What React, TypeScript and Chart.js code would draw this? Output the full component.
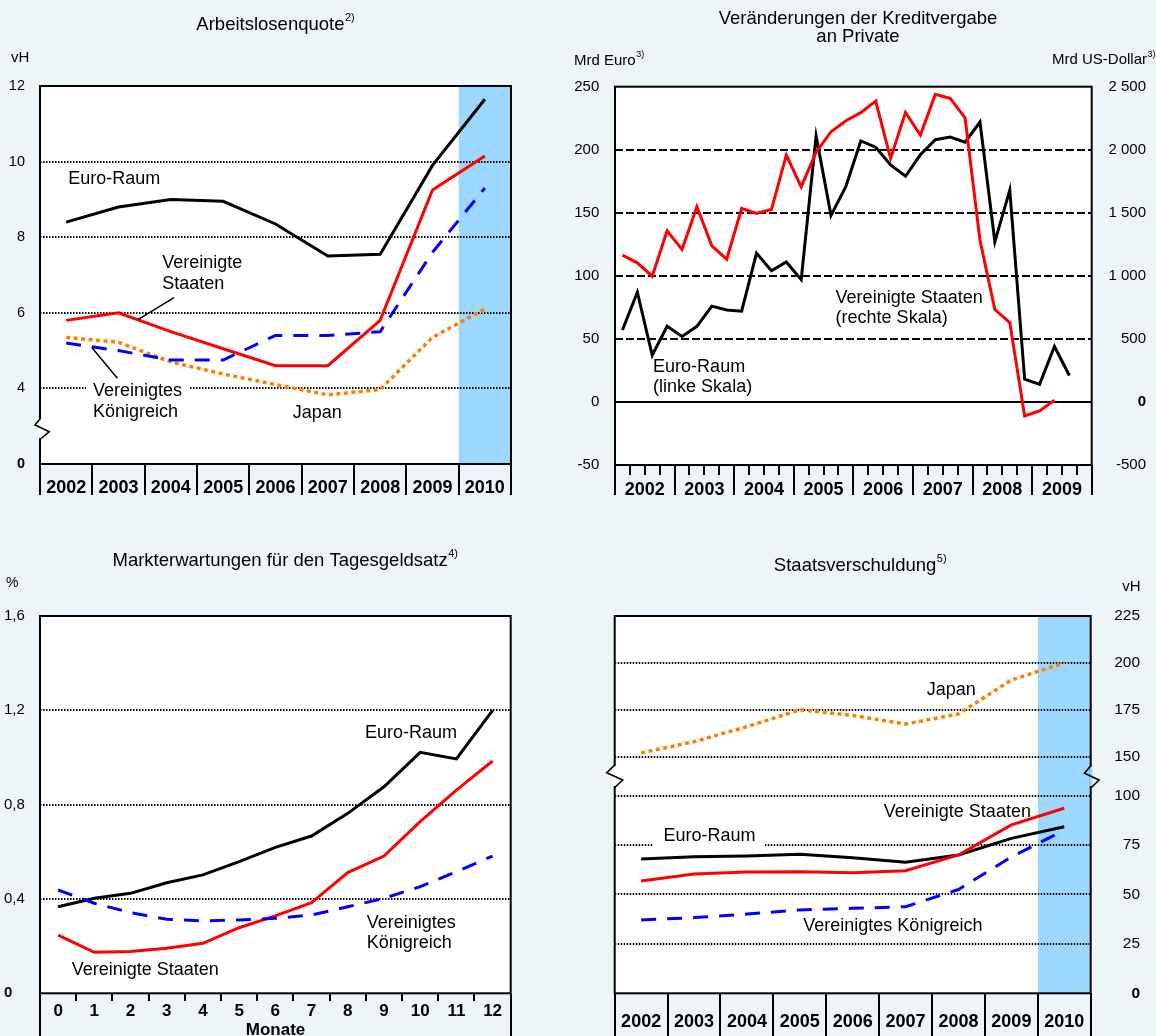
import React, { useEffect, useRef } from 'react';
import { Chart, registerables } from 'chart.js';

Chart.register(...registerables);

const FONT = '"Liberation Sans", Arial, Helvetica, sans-serif';
Chart.defaults.font.family = FONT;
Chart.defaults.color = '#000';

const PAGE_BG = '#EDF5F9';
const SHADE = '#9BD7FE';
const RED = '#FF0000';
const BLUE = '#0000FF';
const ORANGE = '#FF8000';
const BLACK = '#000000';
const NONE = 'rgba(0,0,0,0)';

// ---------- Panel 1: Arbeitslosenquote (vH) ----------
const unempYears = ['2002', '2003', '2004', '2005', '2006', '2007', '2008', '2009', '2010'];
const unempEuro = [8.4, 8.8, 9.0, 8.95, 8.35, 7.5, 7.55, 9.9, 11.65];
const unempUS = [5.8, 6.0, 5.5, 5.05, 4.6, 4.6, 5.8, 9.25, 10.15];
const unempUK = [5.2, 5.0, 4.75, 4.75, 5.4, 5.4, 5.5, 7.6, 9.3];
const unempJapan = [5.35, 5.22, 4.7, 4.38, 4.1, 3.83, 3.97, 5.35, 6.1];
const unempTickValues = [2, 4, 6, 8, 10, 12]; // 2 = Achsenbruch, beschriftet mit 0
const unempTickLabels = ['0', '4', '6', '8', '10', '12'];

// ---------- Panel 2: Veränderungen der Kreditvergabe an Private (Quartale) ----------
const creditYears = ['2002', '2003', '2004', '2005', '2006', '2007', '2008', '2009'];
const creditEuro = [57, 87, 37, 60, 52, 60, 76, 73, 72, 118, 104, 111, 97, 211, 148, 171, 207, 202, 188, 179, 196, 208, 210, 206, 222, 127, 168, 18, 14, 44, 21];
const creditUS = [1164, 1103, 997, 1357, 1209, 1548, 1238, 1132, 1534, 1495, 1526, 1958, 1706, 1980, 2143, 2230, 2294, 2386, 1931, 2296, 2116, 2439, 2407, 2254, 1283, 733, 630, -111, -71, 13];
const creditLeftTicks = [-50, 0, 50, 100, 150, 200, 250];
const creditRightTicks = [-500, 0, 500, 1000, 1500, 2000, 2500];
const creditRightLabels = ['-500', '0', '500', '1 000', '1 500', '2 000', '2 500'];

// ---------- Panel 3: Markterwartungen für den Tagesgeldsatz (%) ----------
const rateMonths = ['0', '1', '2', '3', '4', '5', '6', '7', '8', '9', '10', '11', '12'];
const rateEuro = [0.367, 0.403, 0.424, 0.469, 0.502, 0.558, 0.619, 0.667, 0.763, 0.876, 1.022, 0.994, 1.2];
const rateUS = [0.247, 0.174, 0.177, 0.191, 0.212, 0.278, 0.328, 0.384, 0.512, 0.582, 0.728, 0.862, 0.985];
const rateUK = [0.438, 0.382, 0.342, 0.314, 0.307, 0.311, 0.318, 0.332, 0.367, 0.403, 0.452, 0.516, 0.582];
const rateTickValues = [0, 0.4, 0.8, 1.2, 1.6];
const rateTickLabels = ['0', '0,4', '0,8', '1,2', '1,6'];

// ---------- Panel 4: Staatsverschuldung (vH) ----------
const debtYears = ['2002', '2003', '2004', '2005', '2006', '2007', '2008', '2009', '2010'];
const debtEuro = [68, 69.1, 69.5, 70.3, 68.6, 66.3, 70, 78.4, 84.3];
const debtUS = [56.8, 60.4, 61.4, 61.5, 61, 62, 70, 85.2, 93.6];
const debtUK = [37.1, 38.3, 40.1, 42.2, 43, 43.8, 52.5, 69, 82.5];
const debtJapan = [152, 158, 166, 175, 172, 167.4, 172.8, 190.9, 200];
const debtTickValues = [0, 25, 50, 75, 100, 150, 175, 200, 225];
const DEBT_GAP_LOW = 100;
const DEBT_GAP_HIGH = 150;
// broken axis: 100..150 is compressed
function debtAxis(v: number) {
  return v <= DEBT_GAP_LOW ? v : 119.7 + (v - DEBT_GAP_HIGH) * 0.949;
}

// ---------- helpers ----------
type Txt = {
  t: string; x: number; y: number; size: number;
  bold?: boolean; align?: 'left' | 'center' | 'right'; sup?: string;
};
type Brk = { pts: number[][]; gap: number[]; fill: string };
type Deco = {
  origin: [number, number];
  shadeFrom?: number;
  texts: Txt[];
  boxes?: number[][];
  leaders?: number[][];
  breaks?: Brk[];
  zeroLine?: boolean;
};

function drawTxt(ctx: CanvasRenderingContext2D, o: Txt, ox: number, oy: number) {
  ctx.save();
  const main = `${o.bold ? 'bold ' : ''}${o.size}px ${FONT}`;
  const supSize = Math.round(o.size * 0.62);
  const supFont = `${supSize}px ${FONT}`;
  ctx.font = main;
  const w = ctx.measureText(o.t).width;
  let sw = 0;
  if (o.sup) {
    ctx.font = supFont;
    sw = ctx.measureText(o.sup).width;
  }
  const total = w + sw;
  let left = o.x - ox;
  if (o.align === 'center') left -= total / 2;
  else if (o.align === 'right') left -= total;
  ctx.fillStyle = '#000';
  ctx.textBaseline = 'middle';
  ctx.textAlign = 'left';
  ctx.font = main;
  ctx.fillText(o.t, left, o.y - oy);
  if (o.sup) {
    ctx.font = supFont;
    ctx.fillText(o.sup, left + w + 0.5, o.y - oy - o.size * 0.38);
  }
  ctx.restore();
}

function decoPlugin(d: Deco) {
  const [ox, oy] = d.origin;
  return {
    id: 'deco',
    beforeDraw(chart: any) {
      const { ctx, chartArea: a } = chart;
      ctx.save();
      ctx.fillStyle = '#ffffff';
      ctx.fillRect(a.left, a.top, a.right - a.left, a.bottom - a.top);
      if (d.shadeFrom !== undefined) {
        const x = chart.scales.x;
        const p = (x.getPixelForValue(d.shadeFrom - 1) + x.getPixelForValue(d.shadeFrom)) / 2;
        ctx.fillStyle = SHADE;
        ctx.fillRect(p, a.top, a.right - p, a.bottom - a.top);
      }
      ctx.restore();
    },
    beforeDatasetsDraw(chart: any) {
      const { ctx, chartArea: a } = chart;
      ctx.save();
      (d.boxes || []).forEach((b) => {
        ctx.fillStyle = '#ffffff';
        ctx.fillRect(b[0] - ox, b[1] - oy, b[2], b[3]);
      });
      if (d.zeroLine) {
        const y = chart.scales.y.getPixelForValue(0);
        ctx.strokeStyle = BLACK;
        ctx.lineWidth = 2;
        ctx.beginPath();
        ctx.moveTo(a.left, y);
        ctx.lineTo(a.right, y);
        ctx.stroke();
      }
      ctx.restore();
    },
    afterDatasetsDraw(chart: any) {
      const { ctx, chartArea: a } = chart;
      ctx.save();
      ctx.strokeStyle = BLACK;
      ctx.lineWidth = 2;
      ctx.strokeRect(a.left, a.top, a.right - a.left, a.bottom - a.top);
      (d.breaks || []).forEach((b) => {
        ctx.fillStyle = b.fill;
        ctx.fillRect(b.gap[0] - ox, b.gap[1] - oy, b.gap[2], b.gap[3]);
        ctx.strokeStyle = BLACK;
        ctx.lineWidth = 1.6;
        ctx.beginPath();
        b.pts.forEach((p, i) => (i === 0 ? ctx.moveTo(p[0] - ox, p[1] - oy) : ctx.lineTo(p[0] - ox, p[1] - oy)));
        ctx.stroke();
      });
      (d.leaders || []).forEach((l) => {
        ctx.strokeStyle = BLACK;
        ctx.lineWidth = 1.5;
        ctx.beginPath();
        ctx.moveTo(l[0] - ox, l[1] - oy);
        ctx.lineTo(l[2] - ox, l[3] - oy);
        ctx.stroke();
      });
      ctx.restore();
      d.texts.forEach((t) => drawTxt(ctx, t, ox, oy));
    },
  };
}

function line(data: any[], color: string, dash: number[] = [], yAxisID = 'y', width = 3) {
  return {
    data,
    borderColor: color,
    backgroundColor: color,
    borderWidth: width,
    borderDash: dash,
    borderCapStyle: 'butt',
    borderJoinStyle: 'miter',
    pointRadius: 0,
    pointHoverRadius: 0,
    tension: 0,
    fill: false,
    yAxisID,
  };
}

const commonPlugins = { legend: { display: false }, tooltip: { enabled: false }, title: { display: false } };
const DOT = [1.5, 1.5];

function bandXAxis(tickLength: number, height: number, fontSize: number, pad: number, shortTicks = false) {
  return {
    type: 'category',
    offset: true,
    grid: {
      offset: true,
      drawOnChartArea: false,
      drawTicks: true,
      tickLength,
      lineWidth: 2,
      color: BLACK,
      tickColor: BLACK,
      tickBorderDash: (ctx: any) => (shortTicks && ctx.type === 'tick' && ctx.index > 0 ? [8, 1000] : []),
    },
    border: { display: false },
    ticks: { autoSkip: false, maxRotation: 0, minRotation: 0, padding: pad, color: BLACK, font: { size: fontSize, weight: 'bold' } },
    afterFit: (s: any) => { s.height = height; },
  };
}

// ---------- chart configs ----------
function makeUnemp() {
  return {
    type: 'line',
    data: {
      labels: unempYears,
      datasets: [
        line(unempUS, RED),
        line(unempUK, BLUE, [15, 11]),
        line(unempJapan, ORANGE, [4, 3.5], 'y', 3.5),
        line(unempEuro, BLACK),
      ],
    },
    options: {
      responsive: false, animation: false, devicePixelRatio: 1,
      layout: { padding: { top: 86, right: 49, bottom: 6, left: 0 } },
      plugins: commonPlugins,
      scales: {
        x: bandXAxis(31, 40, 18, -17.5),
        y: {
          min: 2, max: 12,
          afterBuildTicks: (s: any) => { s.ticks = unempTickValues.map((v) => ({ value: v })); },
          ticks: {
            padding: 15, color: BLACK,
            callback: (_v: any, i: number) => unempTickLabels[i],
            font: (ctx: any) => ({ size: 14.5, weight: ctx.index === 0 ? 'bold' : 'normal' }),
          },
          grid: { drawTicks: false, lineWidth: 2, color: (ctx: any) => (ctx.type === 'tick' && ctx.index > 0 && ctx.index < unempTickValues.length - 1 ? BLACK : NONE) },
          border: { display: false, dash: DOT },
          afterFit: (s: any) => { s.width = 40; },
        },
      },
    },
    plugins: [decoPlugin({
      origin: [0, 0],
      shadeFrom: 8,
      boxes: [[86, 380, 104, 20]],
      leaders: [[138.3, 319.3, 174, 297.7], [91.7, 347.3, 117.3, 378.3]],
      breaks: [{ gap: [38.5, 419, 4, 19], fill: '#ffffff', pts: [[40.7, 418], [35, 425], [49.3, 431.7], [41.2, 438.5]] }],
      texts: [
        { t: 'Arbeitslosenquote', sup: '2)', x: 275.3, y: 25, size: 18.5, align: 'center' },
        { t: 'vH', x: 11, y: 58.3, size: 15 },
        { t: 'Euro-Raum', x: 68.3, y: 179.5, size: 18 },
        { t: 'Vereinigte', x: 162.3, y: 263.5, size: 18 },
        { t: 'Staaten', x: 162.3, y: 284.5, size: 18 },
        { t: 'Vereinigtes', x: 93, y: 391.5, size: 18 },
        { t: 'Königreich', x: 93, y: 412.5, size: 18 },
        { t: 'Japan', x: 292.7, y: 412.7, size: 18 },
      ],
    })],
  };
}

function makeCredit() {
  return {
    type: 'line',
    data: {
      datasets: [
        line(creditUS.map((v, i) => ({ x: i + 0.5, y: v })), RED, [], 'y1'),
        line(creditEuro.map((v, i) => ({ x: i + 0.5, y: v })), BLACK, [], 'y'),
      ],
    },
    options: {
      responsive: false, animation: false, devicePixelRatio: 1,
      parsing: false,
      layout: { padding: { top: 86.7, right: 10, bottom: 0, left: 0 } },
      plugins: commonPlugins,
      scales: {
        x: {
          type: 'linear', min: 0, max: creditYears.length * 4,
          afterBuildTicks: (s: any) => { s.ticks = Array.from({ length: creditYears.length * 4 + 1 }, (_, i) => ({ value: i })); },
          grid: {
            drawOnChartArea: false, drawTicks: true, tickLength: 30, lineWidth: 2, color: BLACK, tickColor: BLACK,
            tickBorderDash: (ctx: any) => (ctx.tick && ctx.tick.value % 4 === 0 ? [] : [10, 1000]),
          },
          border: { display: false },
          ticks: {
            autoSkip: false, maxRotation: 0, minRotation: 0, padding: -15.8, color: BLACK,
            font: { size: 18, weight: 'bold' },
            callback: (v: number) => (v % 4 === 2 ? creditYears[(v - 2) / 4] : ''),
          },
          afterFit: (s: any) => { s.height = 45; },
        },
        y: {
          position: 'left', min: -50, max: 250,
          afterBuildTicks: (s: any) => { s.ticks = creditLeftTicks.map((v) => ({ value: v })); },
          ticks: { padding: 15.7, color: BLACK, font: { size: 15 } },
          grid: { drawTicks: false, lineWidth: 2, color: (ctx: any) => (ctx.tick && ctx.tick.value > 0 && ctx.tick.value < 250 ? BLACK : NONE) },
          border: { display: false, dash: [8, 3] },
          afterFit: (s: any) => { s.width = 55; },
        },
        y1: {
          position: 'right', min: -500, max: 2500,
          afterBuildTicks: (s: any) => { s.ticks = creditRightTicks.map((v) => ({ value: v })); },
          ticks: {
            padding: 10, crossAlign: 'far', color: BLACK,
            callback: (_v: any, i: number) => creditRightLabels[i],
            font: (ctx: any) => ({ size: 15, weight: ctx.tick && ctx.tick.value === 0 ? 'bold' : 'normal' }),
          },
          grid: { display: false, drawTicks: false },
          border: { display: false },
          afterFit: (s: any) => { s.width = 54.3; },
        },
      },
    },
    plugins: [decoPlugin({
      origin: [560, 0],
      zeroLine: true,
      texts: [
        { t: 'Veränderungen der Kreditvergabe', x: 858, y: 18.5, size: 18.5, align: 'center' },
        { t: 'an Private', x: 858, y: 37, size: 18.5, align: 'center' },
        { t: 'Mrd Euro', sup: '3)', x: 574, y: 60.7, size: 15 },
        { t: 'Mrd US-Dollar', sup: '3)', x: 1155, y: 60, size: 15, align: 'right' },
        { t: 'Vereinigte Staaten', x: 835.6, y: 298.3, size: 18 },
        { t: '(rechte Skala)', x: 835.6, y: 318.3, size: 18 },
        { t: 'Euro-Raum', x: 653.1, y: 366.7, size: 18 },
        { t: '(linke Skala)', x: 653.1, y: 387.3, size: 18 },
      ],
    })],
  };
}

function makeRate() {
  return {
    type: 'line',
    data: {
      labels: rateMonths,
      datasets: [
        line(rateUK, BLUE, [15, 11]),
        line(rateUS, RED),
        line(rateEuro, BLACK),
      ],
    },
    options: {
      responsive: false, animation: false, devicePixelRatio: 1,
      layout: { padding: { top: 96, right: 49.3, bottom: 0, left: 4 } },
      plugins: commonPlugins,
      scales: {
        x: bandXAxis(43, 42.7, 17, -35.5, true),
        y: {
          min: 0, max: 1.6,
          afterBuildTicks: (s: any) => { s.ticks = rateTickValues.map((v) => ({ value: v })); },
          ticks: {
            padding: 0, crossAlign: 'far', color: BLACK,
            callback: (_v: any, i: number) => rateTickLabels[i],
            font: (ctx: any) => ({ size: 15, weight: ctx.index === 0 ? 'bold' : 'normal' }),
          },
          grid: { drawTicks: false, lineWidth: 2, color: (ctx: any) => (ctx.type === 'tick' && ctx.index > 0 && ctx.index < rateTickValues.length - 1 ? BLACK : NONE) },
          border: { display: false, dash: DOT },
          afterFit: (s: any) => { s.width = 36; },
        },
      },
    },
    plugins: [decoPlugin({
      origin: [0, 520],
      texts: [
        { t: 'Markterwartungen für den Tagesgeldsatz', sup: '4)', x: 285, y: 561, size: 18.5, align: 'center' },
        { t: '%', x: 6, y: 582.7, size: 14 },
        { t: 'Euro-Raum', x: 365, y: 732.8, size: 18 },
        { t: 'Vereinigtes', x: 366.7, y: 923, size: 18 },
        { t: 'Königreich', x: 366.7, y: 943, size: 18 },
        { t: 'Vereinigte Staaten', x: 71.7, y: 969.7, size: 18 },
        { t: 'Monate', x: 275.5, y: 1030.5, size: 17, bold: true, align: 'center' },
      ],
    })],
  };
}

function makeDebt() {
  return {
    type: 'line',
    data: {
      labels: debtYears,
      datasets: [
        line(debtJapan.map(debtAxis), ORANGE, [4, 3.5], 'y', 3.5),
        line(debtUK.map(debtAxis), BLUE, [15, 11]),
        line(debtUS.map(debtAxis), RED),
        line(debtEuro.map(debtAxis), BLACK),
      ],
    },
    options: {
      responsive: false, animation: false, devicePixelRatio: 1,
      layout: { padding: { top: 96, right: 16, bottom: 0, left: 54.7 } },
      plugins: commonPlugins,
      scales: {
        x: bandXAxis(43, 42.7, 18, -25.4),
        y: {
          position: 'right', min: 0, max: debtAxis(225),
          afterBuildTicks: (s: any) => { s.ticks = debtTickValues.map((v) => ({ value: debtAxis(v) })); },
          ticks: {
            padding: 10, crossAlign: 'far', color: BLACK,
            callback: (_v: any, i: number) => String(debtTickValues[i]),
            font: (ctx: any) => ({ size: 15.5, weight: ctx.index === 0 ? 'bold' : 'normal' }),
          },
          grid: { drawTicks: false, lineWidth: 2, color: (ctx: any) => (ctx.type === 'tick' && ctx.index > 0 && ctx.index < debtTickValues.length - 1 ? BLACK : NONE) },
          border: { display: false, dash: DOT },
          afterFit: (s: any) => { s.width = 49.3; },
        },
      },
    },
    plugins: [decoPlugin({
      origin: [560, 520],
      shadeFrom: 8,
      boxes: [[653, 826, 112, 21]],
      breaks: [
        { gap: [613, 766, 4, 20], fill: '#ffffff', pts: [[614.7, 765], [606.7, 772.7], [622.7, 780], [614.7, 787.5]] },
        { gap: [1089.5, 766, 3, 20], fill: SHADE, pts: [[1091.4, 765], [1084.5, 773.3], [1099, 780], [1091.4, 787.5]] },
      ],
      texts: [
        { t: 'Staatsverschuldung', sup: '5)', x: 860, y: 566, size: 18.5, align: 'center' },
        { t: 'vH', x: 1140.7, y: 587.3, size: 15, align: 'right' },
        { t: 'Japan', x: 926.8, y: 690.5, size: 18 },
        { t: 'Vereinigte Staaten', x: 883.8, y: 811.7, size: 18 },
        { t: 'Euro-Raum', x: 663.4, y: 836, size: 18 },
        { t: 'Vereinigtes Königreich', x: 803.3, y: 925.7, size: 18 },
      ],
    })],
  };
}

function ChartBox({ left, top, width, height, make }: { left: number; top: number; width: number; height: number; make: () => any }) {
  const ref = useRef<HTMLCanvasElement>(null);
  useEffect(() => {
    const c = ref.current;
    if (!c) return;
    const chart = new Chart(c, make());
    return () => chart.destroy();
  }, []);
  return (
    <canvas
      ref={ref}
      width={width}
      height={height}
      style={{ position: 'absolute', left, top, width, height }}
    />
  );
}

export default function App() {
  return (
    <div
      style={{
        position: 'absolute', left: 0, top: 0, width: 1156, height: 1036,
        background: PAGE_BG, overflow: 'hidden',
      }}
    >
      <ChartBox left={0} top={0} width={560} height={510} make={makeUnemp} />
      <ChartBox left={560} top={0} width={596} height={510} make={makeCredit} />
      <ChartBox left={0} top={520} width={560} height={516} make={makeRate} />
      <ChartBox left={560} top={520} width={596} height={516} make={makeDebt} />
    </div>
  );
}
